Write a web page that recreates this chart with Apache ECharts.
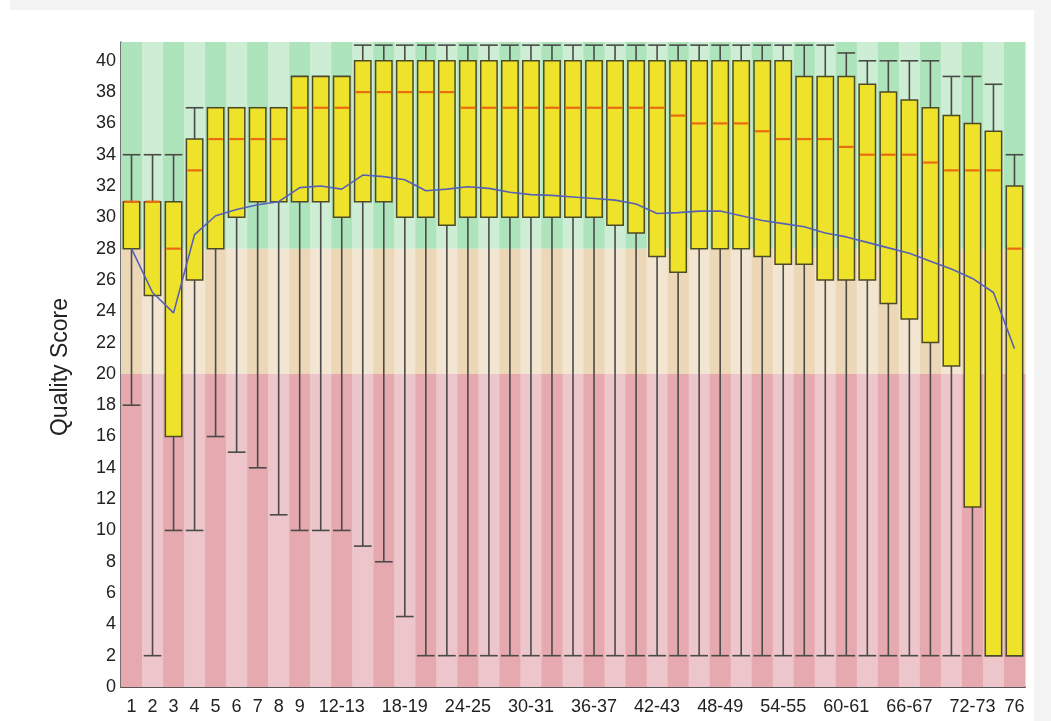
<!DOCTYPE html>
<html>
<head>
<meta charset="utf-8">
<title>Quality scores across all bases</title>
<script src="https://cdn.jsdelivr.net/npm/echarts/dist/echarts.min.js"></script>
<style>
  html, body { margin: 0; padding: 0; background: #ffffff; }
  #frame { position: relative; width: 1051px; height: 721px; overflow: hidden; background: #ffffff; }
  #topStrip { position: absolute; left: 10px; top: 0; width: 1041px; height: 10px; background: #f3f3f3; }
  #rightStrip { position: absolute; left: 1034px; top: 0; width: 17px; height: 721px; background: #f4f4f4; }
  #chart { position: absolute; left: 0; top: 0; width: 1051px; height: 721px; }
</style>
</head>
<body>
<div id="frame">
  <div id="topStrip"></div>
  <div id="rightStrip"></div>
  <div id="chart"></div>
</div>
<script>
// Base positions (read bins)
const categories = [
  '1','2','3','4','5','6','7','8','9',
  '10-11','12-13','14-15','16-17','18-19','20-21','22-23','24-25','26-27','28-29',
  '30-31','32-33','34-35','36-37','38-39','40-41','42-43','44-45','46-47','48-49',
  '50-51','52-53','54-55','56-57','58-59','60-61','62-63','64-65','66-67','68-69',
  '70-71','72-73','74-75','76'
];

// Per-position quality statistics
const whiskerLow = [
  18, 2, 10, 10, 16, 15, 14, 11, 10,
  10, 10, 9, 8, 4.5, 2, 2, 2, 2, 2,
  2, 2, 2, 2, 2, 2, 2, 2, 2, 2,
  2, 2, 2, 2, 2, 2, 2, 2, 2, 2,
  2, 2, 2, 2
];
const lowerQuartile = [
  28, 25, 16, 26, 28, 30, 31, 31, 31,
  31, 30, 31, 31, 30, 30, 29.5, 30, 30, 30,
  30, 30, 30, 30, 29.5, 29, 27.5, 26.5, 28, 28,
  28, 27.5, 27, 27, 26, 26, 26, 24.5, 23.5, 22,
  20.5, 11.5, 2, 2
];
const median = [
  31, 31, 28, 33, 35, 35, 35, 35, 37,
  37, 37, 38, 38, 38, 38, 38, 37, 37, 37,
  37, 37, 37, 37, 37, 37, 37, 36.5, 36, 36,
  36, 35.5, 35, 35, 35, 34.5, 34, 34, 34, 33.5,
  33, 33, 33, 28
];
const upperQuartile = [
  31, 31, 31, 35, 37, 37, 37, 37, 39,
  39, 39, 40, 40, 40, 40, 40, 40, 40, 40,
  40, 40, 40, 40, 40, 40, 40, 40, 40, 40,
  40, 40, 40, 39, 39, 39, 38.5, 38, 37.5, 37,
  36.5, 36, 35.5, 32
];
const whiskerHigh = [
  34, 34, 34, 37, 37, 37, 37, 37, 39,
  39, 39, 41, 41, 41, 41, 41, 41, 41, 41,
  41, 41, 41, 41, 41, 41, 41, 41, 41, 41,
  41, 41, 41, 41, 41, 40.5, 40, 40, 40, 40,
  39, 39, 38.5, 34
];
const meanQuality = [
  28, 25.2, 23.9, 28.9, 30.1, 30.5, 30.8, 31.0, 31.9,
  32.0, 31.8, 32.7, 32.6, 32.4, 31.7, 31.8, 31.95, 31.85, 31.6,
  31.45, 31.4, 31.3, 31.2, 31.1, 30.85, 30.25, 30.3, 30.4, 30.4,
  30.1, 29.8, 29.6, 29.4, 29.0, 28.75, 28.4, 28.05, 27.7, 27.2,
  26.7, 26.1, 25.2, 21.6
];

// Y axis ticks
const yTicks = [0, 2, 4, 6, 8, 10, 12, 14, 16, 18, 20, 22, 24, 26, 28, 30, 32, 34, 36, 38, 40];

// Quality bands: poor / reasonable / good
const bandEdges = [0, 20, 28];
const Y_TOP = 41.2;

const bandColors = [
  ['#e6a9b0', '#ecc6ca'],   // poor
  ['#ecd7b7', '#f2e5d1'],   // reasonable
  ['#ade4bb', '#cdeed4']    // good
];

const boxData = categories.map((c, i) => [i, whiskerLow[i], lowerQuartile[i], median[i], upperQuartile[i], whiskerHigh[i]]);
const stripeData = categories.map((c, i) => [i, 0]);

function renderStripes(params, api) {
  const idx = api.value(0);
  const band = api.size([1, 0])[0];
  const edges = bandEdges.concat([Y_TOP]);
  const children = [];
  for (let b = 0; b < 3; b++) {
    const pLow = api.coord([idx, edges[b]]);
    const pHigh = api.coord([idx, edges[b + 1]]);
    children.push({
      type: 'rect',
      shape: { x: pLow[0] - band / 2, y: pHigh[1], width: band + 0.5, height: pLow[1] - pHigh[1] },
      style: { fill: bandColors[b][idx % 2] },
      silent: true
    });
  }
  return { type: 'group', children };
}

function renderBox(params, api) {
  const idx = api.value(0);
  const lo = api.coord([idx, api.value(1)]);
  const q1 = api.coord([idx, api.value(2)]);
  const md = api.coord([idx, api.value(3)]);
  const q3 = api.coord([idx, api.value(4)]);
  const hi = api.coord([idx, api.value(5)]);
  const band = api.size([1, 0])[0];
  const bw = band * 0.78;
  const cw = band * 0.84;
  const x = lo[0];
  const whiskerStyle = { stroke: '#4a4a48', lineWidth: 1.6 };
  return {
    type: 'group',
    children: [
      { type: 'line', shape: { x1: x, y1: hi[1], x2: x, y2: lo[1] }, style: whiskerStyle },
      { type: 'line', shape: { x1: x - cw / 2, y1: hi[1], x2: x + cw / 2, y2: hi[1] }, style: whiskerStyle },
      { type: 'line', shape: { x1: x - cw / 2, y1: lo[1], x2: x + cw / 2, y2: lo[1] }, style: whiskerStyle },
      {
        type: 'rect',
        shape: { x: x - bw / 2, y: q3[1], width: bw, height: q1[1] - q3[1] },
        style: { fill: '#eee22a', stroke: '#4d4a26', lineWidth: 1.5 }
      },
      {
        type: 'line',
        shape: { x1: x - bw / 2 + 1, y1: md[1], x2: x + bw / 2 - 1, y2: md[1] },
        style: { stroke: '#ea6a10', lineWidth: 2.2 }
      }
    ]
  };
}

const chart = echarts.init(document.getElementById('chart'), null, { renderer: 'canvas' });

chart.setOption({
  backgroundColor: 'transparent',
  animation: false,
  grid: { left: 121, right: 26, top: 42, bottom: 34, containLabel: false },
  xAxis: {
    type: 'category',
    data: categories,
    boundaryGap: true,
    axisLine: { show: true, lineStyle: { color: '#555555', width: 2 } },
    axisTick: { show: false },
    splitLine: { show: false },
    axisLabel: {
      color: '#222222',
      fontFamily: 'Liberation Sans, Arial, sans-serif',
      fontSize: 18,
      margin: 11,
      interval: function (i) {
        return i <= 8 || (i >= 10 && (i - 10) % 3 === 0) || i === categories.length - 1;
      }
    }
  },
  yAxis: {
    type: 'value',
    min: 0,
    max: Y_TOP,
    interval: 2,
    axisLine: { show: true, lineStyle: { color: '#444444', width: 1.5 } },
    axisTick: { show: false },
    splitLine: { show: false },
    axisLabel: {
      color: '#222222',
      fontFamily: 'Liberation Sans, Arial, sans-serif',
      fontSize: 18,
      margin: 5,
      showMaxLabel: false,
      formatter: function (v) { return yTicks.indexOf(v) >= 0 ? String(v) : ''; }
    }
  },
  graphic: [
    {
      type: 'text',
      x: 61,
      y: 367,
      rotation: Math.PI / 2,
      style: {
        text: 'Quality Score',
        fill: '#222222',
        font: '23px "Liberation Sans", Arial, sans-serif',
        textAlign: 'center',
        textVerticalAlign: 'middle'
      }
    }
  ],
  series: [
    {
      name: 'bands',
      type: 'custom',
      renderItem: renderStripes,
      data: stripeData,
      encode: { x: 0, y: 1 },
      silent: true,
      z: 1
    },
    {
      name: 'quality',
      type: 'custom',
      renderItem: renderBox,
      data: boxData,
      encode: { x: 0, y: [1, 2, 3, 4, 5] },
      z: 3
    },
    {
      name: 'mean',
      type: 'line',
      data: meanQuality,
      symbol: 'none',
      smooth: false,
      lineStyle: { color: '#5560b8', width: 1.6 },
      z: 5
    }
  ]
});
</script>
</body>
</html>
